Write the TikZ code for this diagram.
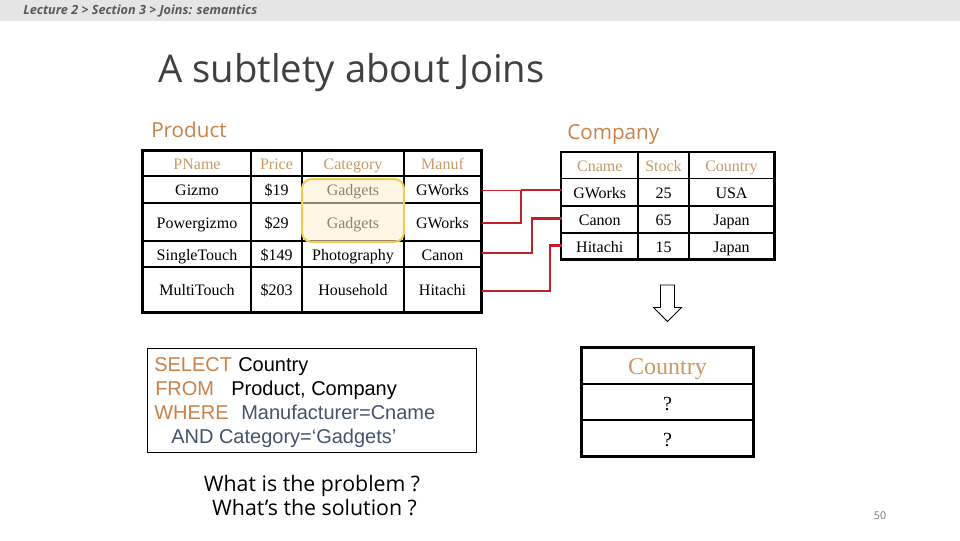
\documentclass[tikz,border=0pt]{standalone}
\usepackage{fontspec}
\setmainfont{Liberation Serif}
\newfontfamily\uif{Open Sans}
\newfontfamily\sqlf{Liberation Sans}
\definecolor{tan}{HTML}{C99A68}
\definecolor{heading}{HTML}{C8824A}
\definecolor{slate}{HTML}{44546A}
\definecolor{redline}{HTML}{C0202A}
\tikzset{
  cellbox/.style={draw=black,line width=1.3pt,inner sep=0pt,text height=11pt,text depth=2pt,font=\fontsize{12}{14}\selectfont,text=black},
  headbox/.style={cellbox,text=tan},
  bigcell/.style={text height=14pt,text depth=2pt},
  outerbox/.style={draw=black,line width=1.7pt},
  link/.style={draw=redline,line width=1.7pt},
  thinlink/.style={draw=redline,line width=0.7pt},
  sqlword/.style={anchor=base west,inner sep=0pt,font=\sqlf\fontsize{15}{18}\selectfont},
  qline/.style={anchor=base,inner sep=0pt,font=\uif\fontsize{16}{19}\selectfont},
  tabletitle/.style={anchor=base west,inner sep=0pt,text=heading,font=\uif\fontsize{15.5}{18}\selectfont},
}
% \tcell{name}{style}{x0}{y0}{x1}{y1}{text}
\newcommand{\tcell}[7]{%
  \pgfmathsetmacro{\cw}{(#5-#3)*0.75}\pgfmathsetmacro{\ch}{(#6-#4)*0.75}%
  \node[#2,minimum width=\cw pt,minimum height=\ch pt] (#1) at ({(#3+#5)/2},{(#4+#6)/2}) {#7};}
\begin{document}
\begin{tikzpicture}[x=0.75pt,y=-0.75pt]
\useasboundingbox (0,0) rectangle (960,540);
\fill[white] (0,0) rectangle (960,540);
\fill[black!10] (0,0) rectangle (960,21);
\node[anchor=base west,inner sep=0pt,text=black!65,font=\uif\bfseries\itshape\fontsize{9.5}{11}\selectfont] (crumb) at (23,14) {Lecture 2 > Section 3 > Joins: semantics};
\node[anchor=base west,inner sep=0pt,text=black!75,font=\uif\fontsize{28.7}{34}\selectfont] (title) at (158,82) {A subtlety about Joins};
\node[tabletitle] (ptitle) at (151,137) {Product};
\node[tabletitle] (ctitle) at (567,139) {Company};
% Product
\tcell{a1}{headbox}{143}{151}{251}{176}{PName}
\tcell{a2}{headbox}{251}{151}{302}{176}{Price}
\tcell{a3}{headbox}{302}{151}{404}{176}{Category}
\tcell{a4}{headbox}{404}{151}{481}{176}{Manuf}
\tcell{b1}{cellbox}{143}{176}{251}{203}{Gizmo}
\tcell{b2}{cellbox}{251}{176}{302}{203}{\$19}
\tcell{b3}{cellbox}{302}{176}{404}{203}{Gadgets}
\tcell{b4}{cellbox}{404}{176}{481}{203}{GWorks}
\tcell{c1}{cellbox}{143}{203}{251}{241}{Powergizmo}
\tcell{c2}{cellbox}{251}{203}{302}{241}{\$29}
\tcell{c3}{cellbox}{302}{203}{404}{241}{Gadgets}
\tcell{c4}{cellbox}{404}{203}{481}{241}{GWorks}
\tcell{d1}{cellbox}{143}{241}{251}{267}{SingleTouch}
\tcell{d2}{cellbox}{251}{241}{302}{267}{\$149}
\tcell{d3}{cellbox}{302}{241}{404}{267}{Photography}
\tcell{d4}{cellbox}{404}{241}{481}{267}{Canon}
\tcell{e1}{cellbox}{143}{267}{251}{312}{MultiTouch}
\tcell{e2}{cellbox}{251}{267}{302}{312}{\$203}
\tcell{e3}{cellbox}{302}{267}{404}{312}{Household}
\tcell{e4}{cellbox}{404}{267}{481}{312}{Hitachi}
\draw[outerbox] (a1.north west) rectangle (e4.south east);
% highlight
\node[draw={rgb,255:red,240;green,204;blue,84},line width=1.5pt,fill={rgb,255:red,255;green,240;blue,205},fill opacity=0.55,rounded corners=7pt,inner sep=0pt,minimum width=76.5pt,minimum height=47pt] (hl) at (353,210.5) {};
% Company
\tcell{f1}{headbox}{561.5}{152.5}{638}{178.5}{Cname}
\tcell{f2}{headbox}{638}{152.5}{689}{178.5}{Stock}
\tcell{f3}{headbox}{689}{152.5}{774}{178.5}{Country}
\tcell{g1}{cellbox}{561.5}{178.5}{638}{206}{GWorks}
\tcell{g2}{cellbox}{638}{178.5}{689}{206}{25}
\tcell{g3}{cellbox}{689}{178.5}{774}{206}{USA}
\tcell{h1}{cellbox}{561.5}{206}{638}{233}{Canon}
\tcell{h2}{cellbox}{638}{206}{689}{233}{65}
\tcell{h3}{cellbox}{689}{206}{774}{233}{Japan}
\tcell{i1}{cellbox}{561.5}{233}{638}{259}{Hitachi}
\tcell{i2}{cellbox}{638}{233}{689}{259}{15}
\tcell{i3}{cellbox}{689}{233}{774}{259}{Japan}
\draw[outerbox] (f1.north west) rectangle (i3.south east);
% connectors
\coordinate (t1) at (561.5,190);
\coordinate (t2) at (561.5,218.5);
\coordinate (t3) at (561.5,245.5);
\draw[thinlink] (b4.east) ++(0,0.5) coordinate (s1) -- (s1 -| 521,0);
\draw[link] (521,190) -- (t1);
\draw[link] (c4.east) ++(0,1) coordinate (s2) -- (521,223) -- (521,190);
\draw[link] (d4.east) ++(0,-1) coordinate (s3) -- (532,253) -- (532,218.5) -- (t2);
\draw[link] (e4.east) ++(0,1.5) coordinate (s4) -- (550,291) -- (550,245.5) -- (t3);
% down arrow
\draw[black,line width=0.6pt] (660.5,285) -- (674.5,285) -- (674.5,307.5) -- (681.5,307.5) -- (667.5,321.5) -- (653.5,307.5) -- (660.5,307.5) -- cycle;
% Result
\tcell{j1}{headbox,bigcell,font=\fontsize{18}{20}\selectfont}{582}{348}{753}{384}{Country}
\tcell{k1}{cellbox,bigcell,font=\fontsize{15}{18}\selectfont}{582}{384}{753}{420}{?}
\tcell{l1}{cellbox,bigcell,font=\fontsize{15}{18}\selectfont}{582}{420}{753}{456}{?}
\draw[outerbox] (j1.north west) rectangle (l1.south east);
% SQL
\node[draw=black,line width=0.6pt,inner sep=0pt,minimum width=247pt,minimum height=78pt] (sqlbox) at (312,400.3) {};
\node[sqlword,text=heading] (w1) at (154,371) {SELECT};
\node[sqlword] (w2) at (238,371) {Country};
\node[sqlword,text=heading] (w3) at (155,395) {FROM};
\node[sqlword] (w4) at (231,395) {Product, Company};
\node[sqlword,text=heading] (w5) at (154,419) {WHERE};
\node[sqlword,text=slate] (w6) at (241,419) {Manufacturer=Cname};
\node[sqlword,text=slate] (w7) at (171,443) {AND Category=‘Gadgets’};
\node[qline] (q1) at (312,491) {What is the problem ?};
\node[qline] (q2) at (314.5,515) {What’s the solution ?};
\node[anchor=base,inner sep=0pt,text=black!55,font=\uif\fontsize{8}{10}\selectfont] (pg) at (880,519) {50};
\end{tikzpicture}
\end{document}
